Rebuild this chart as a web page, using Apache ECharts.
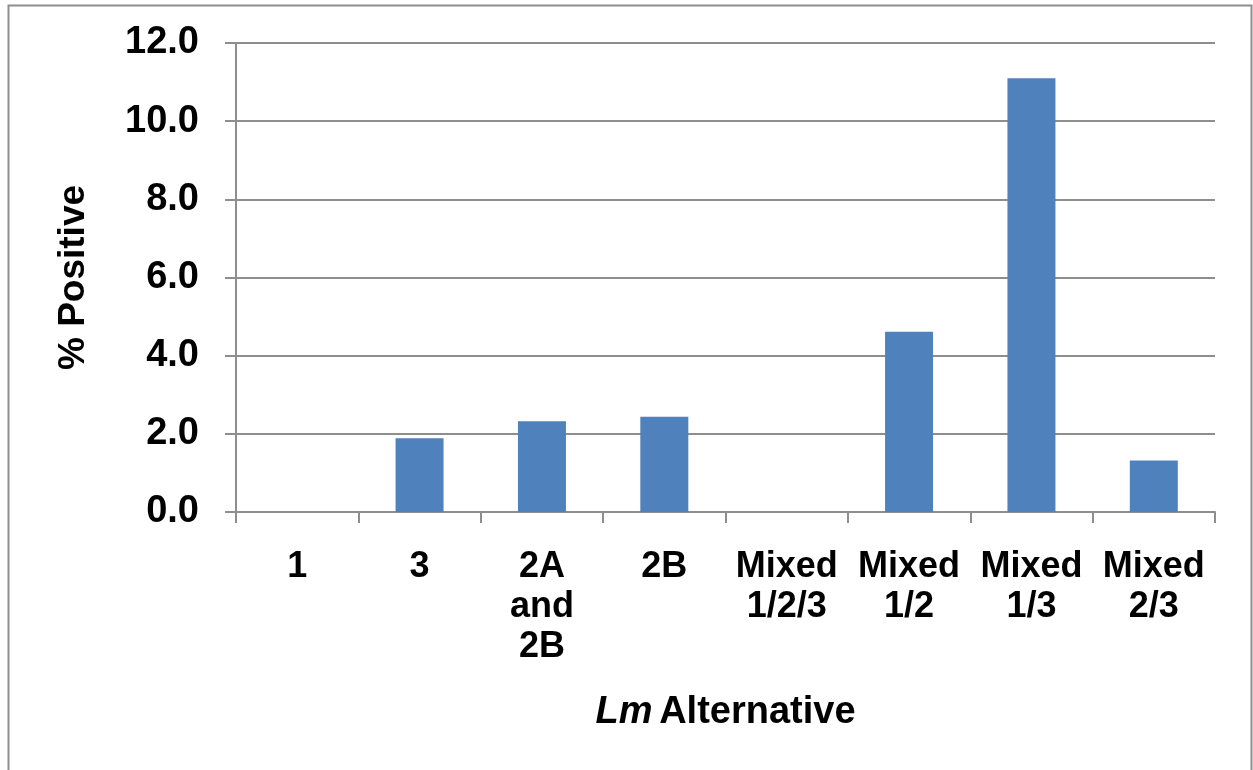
<!DOCTYPE html>
<html>
<head>
<meta charset="utf-8">
<script src="https://cdn.jsdelivr.net/npm/echarts@6/dist/echarts.min.js"></script>
<style>
  html, body { margin: 0; padding: 0; background: #fff; }
  #chart { width: 1253px; height: 770px; }
</style>
</head>
<body>
<div id="chart"></div>
<script>
// Lm alternatives and their share of positive samples (%)
const categories = ['1', '3', '2A\nand\n2B', '2B', 'Mixed\n1/2/3', 'Mixed\n1/2', 'Mixed\n1/3', 'Mixed\n2/3'];
const percentPositive = [0, 1.89, 2.32, 2.44, 0, 4.61, 11.1, 1.32];
const yTicks = { min: 0, max: 12, step: 2 };

const FONT = '"Liberation Sans", Arial, sans-serif';
const GRAY = '#8e8e8e';

const chart = echarts.init(document.getElementById('chart'), null, { renderer: 'canvas' });

chart.setOption({
  animation: false,
  backgroundColor: '#ffffff',
  textStyle: { fontFamily: FONT, color: '#000' },
  graphic: [{
    type: 'rect',
    shape: { x: 8.5, y: 5.5, width: 1243, height: 800 },
    style: { fill: 'none', stroke: GRAY, lineWidth: 2 },
    silent: true,
    z: -1
  }],
  grid: { left: 236, right: 38, top: 43, bottom: 258 },
  xAxis: {
    type: 'category',
    data: categories,
    boundaryGap: true,
    axisLine: { lineStyle: { color: GRAY, width: 2 } },
    axisTick: { show: true, length: 11, alignWithLabel: false, lineStyle: { color: GRAY, width: 2 } },
    axisLabel: {
      interval: 0,
      margin: 35,
      fontFamily: FONT,
      fontWeight: 'bold',
      fontSize: 36,
      lineHeight: 40,
      color: '#000'
    },
    name: '{i|Lm}  {b|Alternative}',
    nameLocation: 'middle',
    nameGap: 182,
    nameTextStyle: {
      verticalAlign: 'top',
      rich: {
        i: { fontFamily: FONT, fontWeight: 'bold', fontStyle: 'italic', fontSize: 38, color: '#000' },
        b: { fontFamily: FONT, fontWeight: 'bold', fontSize: 38, color: '#000' }
      }
    }
  },
  yAxis: {
    type: 'value',
    min: yTicks.min,
    max: yTicks.max,
    interval: yTicks.step,
    axisLine: { show: true, lineStyle: { color: GRAY, width: 2 } },
    axisTick: { show: true, length: 11, lineStyle: { color: GRAY, width: 2 } },
    splitLine: { show: true, lineStyle: { color: GRAY, width: 2 } },
    axisLabel: {
      margin: 37,
      fontFamily: FONT,
      fontWeight: 'bold',
      fontSize: 38,
      color: '#000',
      formatter: v => v.toFixed(1)
    },
    name: '% Positive',
    nameLocation: 'middle',
    nameGap: 144,
    nameRotate: 90,
    nameTextStyle: {
      fontFamily: FONT,
      fontWeight: 'bold',
      fontSize: 37,
      color: '#000'
    }
  },
  series: [{
    type: 'bar',
    data: percentPositive,
    barWidth: 48,
    itemStyle: { color: '#4f81bd' },
    z: 3
  }]
});
</script>
</body>
</html>
